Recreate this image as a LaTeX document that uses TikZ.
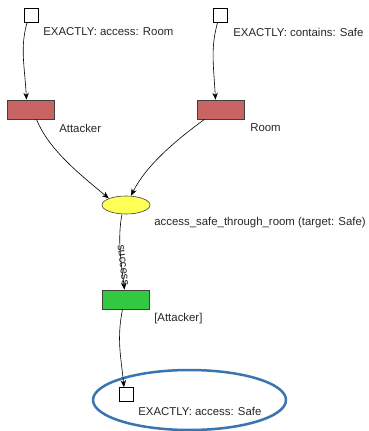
\documentclass[tikz,border=0pt]{standalone}
\usepackage{fontspec}
\setmainfont{Liberation Sans}
\usetikzlibrary{positioning,arrows.meta,shapes.geometric,shadows}
\definecolor{placered}{RGB}{200,100,100}
\definecolor{firegreen}{RGB}{50,200,64}
\definecolor{actyellow}{RGB}{255,255,85}
\definecolor{goalblue}{RGB}{58,117,176}

\begin{document}
\begin{tikzpicture}[x=1pt, y=-1pt, >={Stealth[length=7pt,width=5.5pt]}, line width=0.6pt,
place/.style = {rectangle, draw=black, fill=white, minimum width=14pt, minimum height=14pt, inner sep=0pt},
token/.style = {rectangle, draw=black!75, minimum width=47pt, minimum height=19pt, inner sep=0pt},
lbl/.style = {anchor=west, inner sep=0pt, text=black!85, font=\fontsize{11.4}{13}\selectfont}]
\useasboundingbox (0,0) rectangle (368,431);

\node[ellipse, draw=goalblue, line width=2.5pt, minimum width=193pt, minimum height=60pt,
  drop shadow={opacity=0.15, shadow xshift=1pt, shadow yshift=-1.5pt}, fill=white] at (189.5,400) (goal) {};

\node[place] at (31,15.5) (pa) {};
\node[place] at (220.5,15.5) (pc) {};
\node[token, fill=placered] at (30.5,109.5) (att) {};
\node[token, fill=placered] at (220.5,109.5) (room) {};
\node[ellipse, draw=black!75, fill=actyellow, minimum width=48pt, minimum height=18pt, inner sep=0pt] at (126,205) (act) {};
\node[token, fill=firegreen] at (125.5,299.5) (res) {};
\node[place] at (126,394.5) (pg) {};

\node[lbl] at (43,32) (lpa) {EXACTLY: access: Room};
\node[lbl] at (233,32) (lpc) {EXACTLY: contains: Safe};
\node[lbl] at (59,128) (latt) {Attacker};
\node[lbl] at (250,128) (lroom) {Room};
\node[lbl] at (154,223) (lact) {access\_safe\_through\_room (target: Safe)};
\node[lbl] at (154,319) (lres) {[Attacker]};
\node[lbl] at (138,411) (lpg) {EXACTLY: access: Safe};

\draw[->] ([xshift=-4pt]pa.south) .. controls +(-7,25) and +(-2,-35) .. ([xshift=-4pt]att.north);
\draw[->] ([xshift=-3pt]pc.south) .. controls +(-7,25) and +(-2,-35) .. ([xshift=-5pt]room.north);
\draw[->] ([xshift=6pt]att.south) .. controls +(12,30) and +(-30,-25) .. (act.north west);
\draw[->] ([xshift=-16pt]room.south) .. controls +(-30,22) and +(15,-30) .. ([xshift=5pt]act.north);
\draw[->] ([xshift=-4pt]act.south) .. controls +(-5,25) and +(-3,-25) .. node[sloped, pos=0.68, yshift=1.5pt, inner sep=0pt, text=black!85, font=\fontsize{11.4}{13}\selectfont] {success} ([xshift=-1pt]res.north);
\draw[->] ([xshift=-3pt]res.south) .. controls +(-6,30) and +(-3,-30) .. ([xshift=-2pt]pg.north);
\end{tikzpicture}
\end{document}
